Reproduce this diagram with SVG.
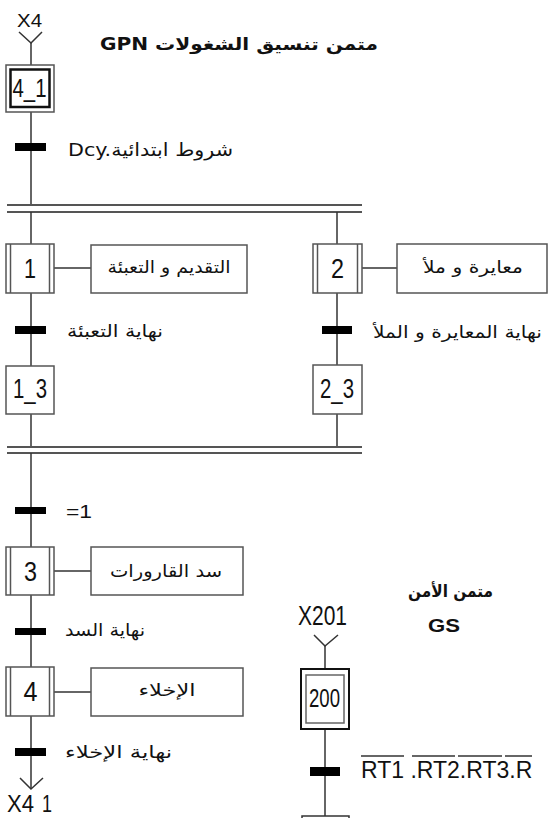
<svg xmlns="http://www.w3.org/2000/svg" width="549" height="818" viewBox="0 0 549 818">
<style>
.bg{fill:#fff}
.ln{stroke:#333;stroke-width:1.5;fill:none}
.dbl{stroke:#555;stroke-width:2;fill:none}
.step{fill:#fff;stroke:#555;stroke-width:1.5}
.act{fill:#fff;stroke:#555;stroke-width:1.5}
.init{fill:none;stroke:#111;stroke-width:2.5}
.tr{fill:#000}
.lat{font-family:"Liberation Sans",Arial,sans-serif;fill:#111}
.ar{font-family:"DejaVu Sans","Liberation Sans",sans-serif;fill:#111}
.b{font-weight:bold}
</style>
<rect class="bg" x="0" y="0" width="549" height="818"/>

<g id="connectors">
  <polyline class="ln" points="19,32 31,43 42,32"/>
  <line class="ln" x1="31" y1="43" x2="31" y2="65"/>
  <line class="ln" x1="31" y1="112" x2="31" y2="205"/>
  <line class="dbl" x1="7" y1="205" x2="362" y2="205"/>
  <line class="dbl" x1="7" y1="212" x2="362" y2="212"/>
  <line class="ln" x1="31" y1="212" x2="31" y2="244"/>
  <line class="ln" x1="337" y1="212" x2="337" y2="244"/>
  <line class="ln" x1="31" y1="293" x2="31" y2="366"/>
  <line class="ln" x1="337" y1="293" x2="337" y2="365"/>
  <line class="ln" x1="31" y1="414" x2="31" y2="447"/>
  <line class="ln" x1="337" y1="414" x2="337" y2="447"/>
  <line class="dbl" x1="7" y1="447" x2="362" y2="447"/>
  <line class="dbl" x1="7" y1="453" x2="362" y2="453"/>
  <line class="ln" x1="31" y1="453" x2="31" y2="547"/>
  <line class="ln" x1="31" y1="595" x2="31" y2="667"/>
  <line class="ln" x1="31" y1="716" x2="31" y2="789"/>
  <polyline class="ln" points="20,778 31,789 43,778"/>
  <line class="ln" x1="54" y1="268" x2="91" y2="268"/>
  <line class="ln" x1="362" y1="268" x2="397" y2="268"/>
  <line class="ln" x1="54" y1="571" x2="91" y2="571"/>
  <line class="ln" x1="54" y1="692" x2="91" y2="692"/>
  <polyline class="ln" points="314,635 325,646 338,635"/>
  <line class="ln" x1="325" y1="646" x2="325" y2="669"/>
  <line class="ln" x1="325" y1="729" x2="325" y2="816"/>
  <polyline class="ln" points="302,818 302,816 349,816 349,818"/>
</g>

<g id="transitions">
  <rect class="tr" x="15" y="143" width="31" height="8"/>
  <rect class="tr" x="15" y="326" width="31" height="8"/>
  <rect class="tr" x="322" y="326" width="30" height="8"/>
  <rect class="tr" x="15" y="507" width="31" height="7"/>
  <rect class="tr" x="15" y="628" width="31" height="7"/>
  <rect class="tr" x="15" y="748" width="31" height="8"/>
  <rect class="tr" x="310" y="767" width="30" height="9"/>
</g>

<g id="step-4_1">
  <rect class="step" x="6" y="65" width="48" height="47"/>
  <rect class="init" x="10.5" y="69.5" width="39" height="37.5"/>
  <text class="lat" x="12.5" y="97" font-size="26" textLength="34" lengthAdjust="spacingAndGlyphs">4_1</text>
</g>

<g id="step-1">
  <rect class="step" x="6" y="244" width="48" height="49"/>
  <line class="step" x1="10.5" y1="244" x2="10.5" y2="293"/>
  <line class="step" x1="49.5" y1="244" x2="49.5" y2="293"/>
  <text class="lat" x="24" y="278" font-size="28" textLength="12" lengthAdjust="spacingAndGlyphs">1</text>
</g>
<g id="action-1">
  <rect class="act" x="91" y="245" width="156" height="48"/>
  <text class="ar" x="169" y="273" font-size="17" text-anchor="middle" textLength="123" lengthAdjust="spacingAndGlyphs">التقديم و التعبئة</text>
</g>

<g id="step-2">
  <rect class="step" x="313" y="244" width="49" height="49"/>
  <line class="step" x1="317.5" y1="244" x2="317.5" y2="293"/>
  <line class="step" x1="357.5" y1="244" x2="357.5" y2="293"/>
  <text class="lat" x="331" y="278" font-size="28" textLength="13" lengthAdjust="spacingAndGlyphs">2</text>
</g>
<g id="action-2">
  <rect class="act" x="397" y="244" width="150" height="49"/>
  <text class="ar" x="473" y="273" font-size="17" text-anchor="middle" textLength="100" lengthAdjust="spacingAndGlyphs">معايرة و ملأ</text>
</g>

<g id="step-1_3">
  <rect class="step" x="6" y="366" width="48" height="48"/>
  <text class="lat" x="13" y="398" font-size="27" textLength="34" lengthAdjust="spacingAndGlyphs">1_3</text>
</g>
<g id="step-2_3">
  <rect class="step" x="313" y="365" width="49" height="49"/>
  <text class="lat" x="320" y="398" font-size="27" textLength="34" lengthAdjust="spacingAndGlyphs">2_3</text>
</g>

<g id="step-3">
  <rect class="step" x="6" y="547" width="48" height="48"/>
  <line class="step" x1="10.5" y1="547" x2="10.5" y2="595"/>
  <line class="step" x1="49.5" y1="547" x2="49.5" y2="595"/>
  <text class="lat" x="24" y="581" font-size="28" textLength="13" lengthAdjust="spacingAndGlyphs">3</text>
</g>
<g id="action-3">
  <rect class="act" x="91" y="547" width="152" height="48"/>
  <text class="ar" x="166" y="577" font-size="17" text-anchor="middle" textLength="112" lengthAdjust="spacingAndGlyphs">سد القارورات</text>
</g>

<g id="step-4">
  <rect class="step" x="6" y="667" width="48" height="49"/>
  <line class="step" x1="10.5" y1="667" x2="10.5" y2="716"/>
  <line class="step" x1="49.5" y1="667" x2="49.5" y2="716"/>
  <text class="lat" x="23.5" y="701" font-size="28" textLength="14" lengthAdjust="spacingAndGlyphs">4</text>
</g>
<g id="action-4">
  <rect class="act" x="91" y="668" width="152" height="48"/>
  <text class="ar" x="167" y="696" font-size="17" text-anchor="middle" textLength="57" lengthAdjust="spacingAndGlyphs">الإخلاء</text>
</g>

<g id="step-200">
  <rect x="301" y="669" width="48" height="60" fill="#fff" stroke="#111" stroke-width="2"/>
  <rect x="306" y="675" width="38" height="48" fill="none" stroke="#666" stroke-width="1.5"/>
  <text class="lat" x="309" y="707" font-size="26" textLength="31" lengthAdjust="spacingAndGlyphs">200</text>
</g>

<g id="labels">
  <text class="lat" x="17" y="27" font-size="19" textLength="25" lengthAdjust="spacingAndGlyphs">X4</text>
  <text class="ar b" x="100" y="50" font-size="17" textLength="278" lengthAdjust="spacingAndGlyphs">GPN  متمن تنسيق الشغولات</text>
  <text class="ar" x="68" y="156" font-size="18" textLength="165" lengthAdjust="spacingAndGlyphs">Dcy.شروط ابتدائية</text>
  <text class="ar" x="67" y="337" font-size="17" textLength="96" lengthAdjust="spacingAndGlyphs">نهاية التعبئة</text>
  <text class="ar" x="373" y="338" font-size="17" textLength="169" lengthAdjust="spacingAndGlyphs">نهاية المعايرة و الملأ</text>
  <text class="lat" x="66" y="518" font-size="19" textLength="26" lengthAdjust="spacingAndGlyphs">=1</text>
  <text class="ar" x="65" y="636" font-size="17" textLength="80" lengthAdjust="spacingAndGlyphs">نهاية السد</text>
  <text class="ar" x="65" y="758" font-size="17" textLength="107" lengthAdjust="spacingAndGlyphs">نهاية الإخلاء</text>
  <text class="lat" y="812" font-size="24"><tspan x="7" textLength="27" lengthAdjust="spacingAndGlyphs">X4</tspan><tspan x="42" textLength="10" lengthAdjust="spacingAndGlyphs">1</tspan></text>
  <text class="ar b" x="408" y="597" font-size="17" textLength="85" lengthAdjust="spacingAndGlyphs">متمن الأمن</text>
  <text class="lat b" x="428" y="632" font-size="19" textLength="32" lengthAdjust="spacingAndGlyphs">GS</text>
  <text class="lat" x="298" y="625" font-size="27" textLength="49" lengthAdjust="spacingAndGlyphs">X201</text>
  <text class="lat" x="361" y="778" font-size="23">RT1 .RT2.RT3.R</text>
  <g class="ln" stroke="#333">
    <line x1="361" y1="756" x2="404" y2="756"/>
    <line x1="412" y1="756" x2="455" y2="756"/>
    <line x1="458" y1="756" x2="502" y2="756"/>
    <line x1="505" y1="756" x2="532" y2="756"/>
  </g>
</g>
</svg>
